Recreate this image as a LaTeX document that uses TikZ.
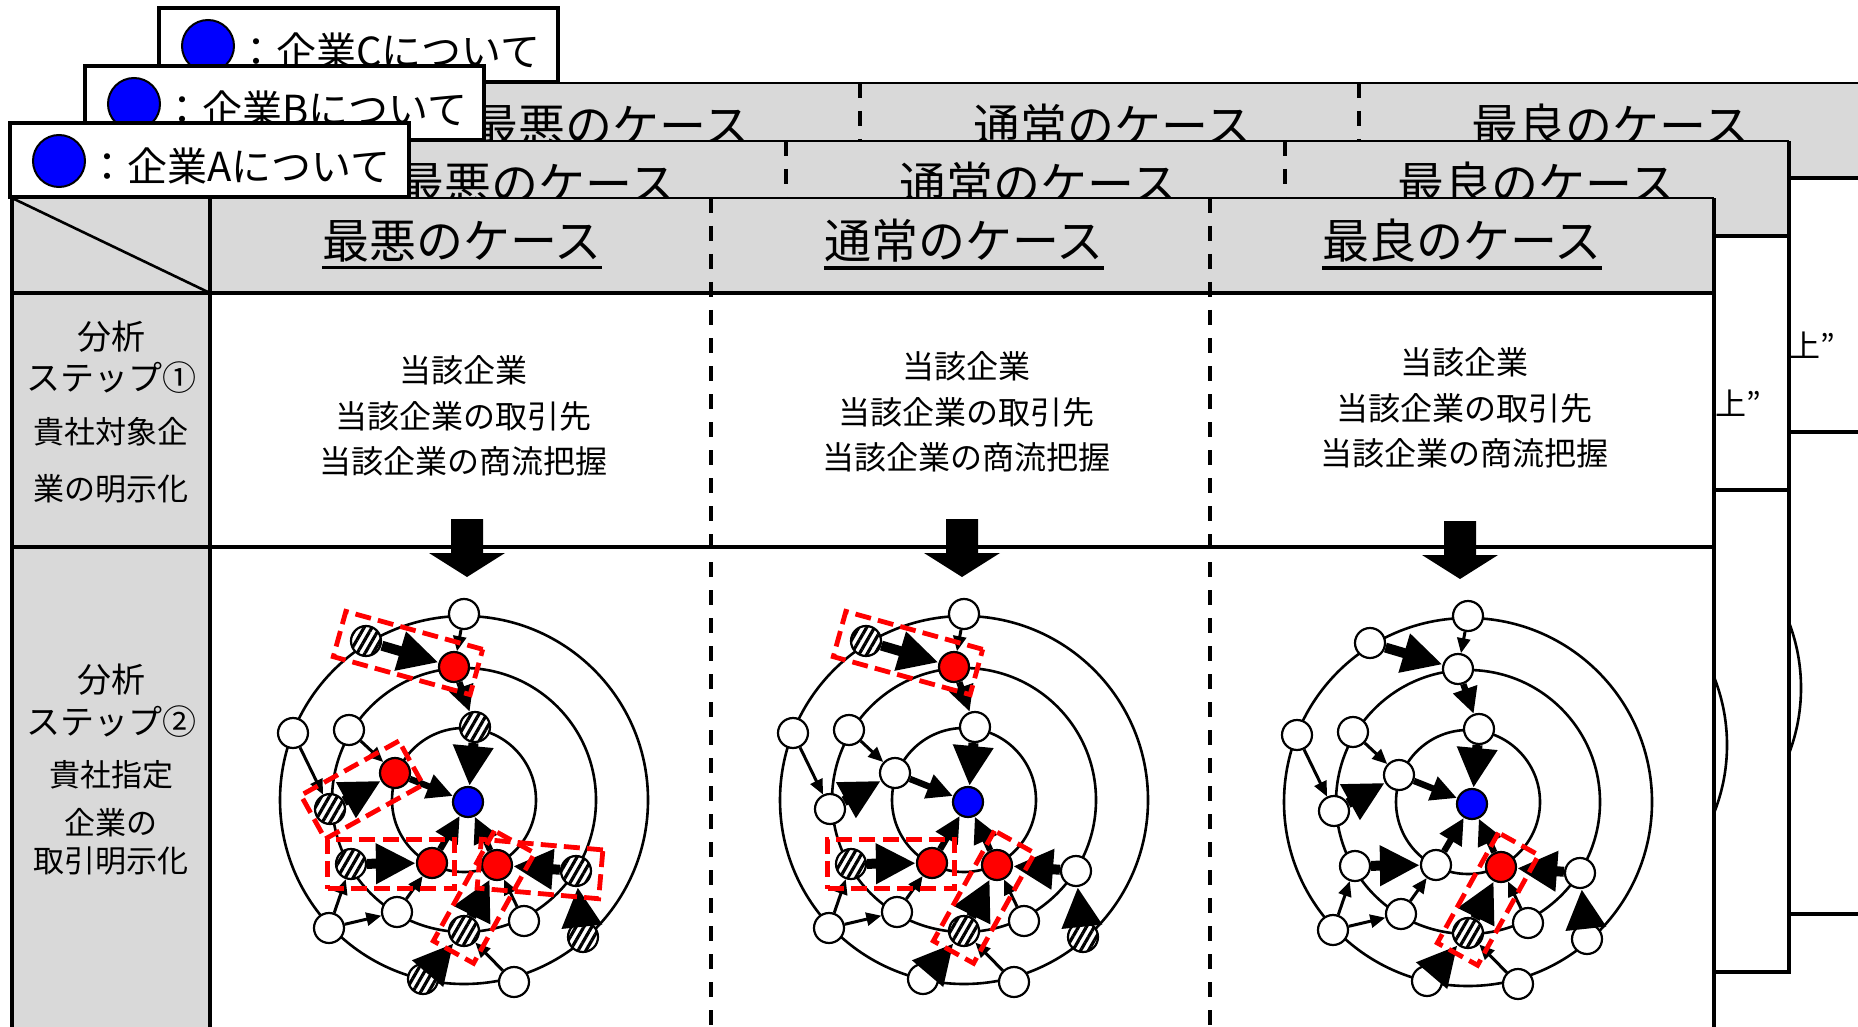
\documentclass[tikz,border=0pt]{standalone}
\usepackage{fontspec}
\newfontfamily\jp{Noto Sans CJK JP}
\usetikzlibrary{arrows.meta,patterns.meta}
\definecolor{hdr}{HTML}{D9D9D9}
\definecolor{pblue}{HTML}{0000FF}
\definecolor{pred}{HTML}{FF0000}

\tikzset{
  tl/.style={line width=2.3pt},
  tlt/.style={line width=1.3pt},
  dl/.style={line width=1.7pt, dash pattern=on 7.5pt off 6.5pt},
  ring/.style={line width=1.3pt},
  nd/.style={circle, draw, line width=1.1pt, minimum size=15pt, inner sep=0pt},
  ndw/.style={nd, fill=white},
  ndr/.style={nd, fill=pred},
  ndb/.style={nd, fill=pblue},
  ndh/.style={nd, preaction={fill=white}, pattern={Lines[angle=60,distance=3.4pt,line width=1.6pt]}},
  athin/.style={line width=1.5pt, -{Triangle[length=7.5pt,width=6.5pt]}},
  amed/.style={line width=3.2pt, -{Triangle[length=13pt,width=12pt]}},
  athick/.style={line width=5pt, -{Triangle[length=20pt,width=19pt]}},
  rbox/.style={rectangle, draw=pred, line width=2.4pt, dash pattern=on 8pt off 3.6pt, inner sep=0pt},
  hdtxt/.style={font=\jp\fontsize{23.5pt}{28pt}\selectfont, inner sep=0pt},
  lgtxt/.style={font=\jp\fontsize{20pt}{24pt}\selectfont, inner sep=0pt, anchor=west},
  lgdot/.style={circle, draw, fill=pblue, line width=1pt, minimum size=26pt, inner sep=0pt},
  rowtxt/.style={font=\jp\fontsize{16pt}{22.75pt}\selectfont, align=center, inner sep=0pt},
  stepbig/.style={font=\jp\fontsize{17pt}{20pt}\selectfont, inner sep=0pt},
  stepsm/.style={font=\jp\fontsize{15.5pt}{19pt}\selectfont, inner sep=0pt},
  tailtxt/.style={font=\jp\fontsize{15.5pt}{19pt}\selectfont, inner sep=0pt, anchor=west},
}

\newcommand\tablelayer[3]{%
\begin{scope}[shift={(#1,#2)}]
 \fill[white] (12,198) rectangle (1714,1029);
 \fill[hdr] (12,198) rectangle (1714,293);
 \fill[hdr] (12,293) rectangle (210,1029);
 \draw[line width=1.3pt] (12,198) -- (210,293);
 \draw[dl] (711,198) -- (711,1029);
 \draw[dl] (1210,198) -- (1210,1029);
 \draw[tl] (12,293) -- (1714,293);
 \draw[tl] (12,547) -- (1714,547);
 \draw[tl] (210,198) -- (210,1029);
 \draw[tlt] (12,198) -- (1714,198);
 \draw[tl] (12,198) -- (12,1029) -- (1714,1029) -- (1714,198);
 \node[hdtxt] (#3h1) at (462,241) {最悪のケース};
 \node[hdtxt] (#3h2) at (964,241) {通常のケース};
 \node[hdtxt] (#3h3) at (1462,241) {最良のケース};
 \foreach \h in {1,2,3}{\draw[line width=1.6pt] ([yshift=-2.5pt]#3h\h.south west) -- ([yshift=-2.5pt]#3h\h.south east);}
\end{scope}}

\newcommand\legendbox[3]{%
\begin{scope}[shift={(#1,#2)}]
 \draw[line width=1.6pt, fill=white] (10,123) rectangle (409,197);
 \node[lgdot] (#3dot) at (59,161) {};
 \node[lgtxt] (#3lg) at (87,166) {：企業#3について};
\end{scope}}

\newcommand\downarr[3]{%
 \fill (#1-16,#2) -- (#1+16,#2) -- (#1+16,#2+34) -- (#1+38,#2+34) -- (#1,#2+58) -- (#1-38,#2+34) -- (#1-16,#2+34) -- cycle;}

\newcommand\netpanel[3]{%
 \begin{scope}[shift={#2}]
  \draw[ring] (464,800) circle[radius=184];
  \draw[ring] (464,800) circle[radius=132];
  \draw[ring] (464,800) circle[radius=72];
  \foreach \k/\px/\py in {1/464/614, 2/366/641, 3/454/667, 4/475/727, 5/293/733,
     6/349/730, 7/395/773, 8/330/809, 9/468/802, 10/351/864, 11/432/863,
     12/497/865, 13/576/871, 14/329/928, 15/397/912, 16/464/931, 17/524/921,
     18/583/937, 19/423/979, 20/514/982}{\coordinate (#1c\k) at (\px,\py);}
 \end{scope}
 \foreach \ty [count=\k] in {#3}{\edef\tmp{\noexpand\node[nd\ty] (#1n\k) at (#1c\k) {};}\tmp}
 \draw[athin] (#1n1) -- (#1n3);
 \draw[athick] (#1n2) -- (#1n3);
 \draw[amed] (#1n3) -- (#1n4);
 \draw[athick] (#1n4) -- (#1n9);
 \draw[athin] (#1n5) -- (#1n8);
 \draw[athin] (#1n6) -- (#1n7);
 \draw[athick] (#1n8) -- (#1n7);
 \draw[amed] (#1n7) -- (#1n9);
 \draw[athick] (#1n10) -- (#1n11);
 \draw[amed] (#1n11) -- (#1n9);
 \draw[amed] (#1n12) -- (#1n9);
 \draw[athick] (#1n13) -- (#1n12);
 \draw[athin] (#1n14) -- (#1n10);
 \draw[athin] (#1n14) -- (#1n15);
 \draw[athin] (#1n15) -- (#1n11);
 \draw[athick] (#1n16) -- (#1n12);
 \draw[athin] (#1n17) -- (#1n12);
 \draw[athick] (#1n19) -- (#1n16);
 \draw[athin] (#1n20) -- (#1n16);
 \draw[athick] (#1n18) -- (#1n13);
}

\begin{document}
\begin{tikzpicture}[x=0.5pt,y=-0.5pt]
\useasboundingbox (0,0) rectangle (1858,1027);
\clip (0,0) rectangle (1858,1027);

% ---- layer C (back)
\tablelayer{149}{-115}{C}
\node[tailtxt] (Ctail) at (1789,345) {上”};
\draw[ring] (1617,688) circle[radius=184];
\legendbox{149}{-115}{C}

% ---- layer B
\tablelayer{75}{-57}{B}
\node[tailtxt] (Btail) at (1715,403) {上”};
\draw[ring] (1543,745) circle[radius=184];
\legendbox{75}{-57}{B}

% ---- layer A (front)
\tablelayer{0}{0}{A}

\node[stepbig] (s1a) at (111,337) {分析};
\node[stepbig] (s1b) at (111,378) {ステップ①};
\node[stepsm] (s1c) at (111,432) {貴社対象企};
\node[stepsm] (s1d) at (111,489) {業の明示化};

\node[stepbig] (s2a) at (111,680) {分析};
\node[stepbig] (s2b) at (111,722) {ステップ②};
\node[stepsm] (s2c) at (111,775) {貴社指定};
\node[stepsm] (s2d) at (111,823) {企業の};
\node[stepsm] (s2e) at (111,861) {取引明示化};

\node[rowtxt] (t1) at (463,416) {当該企業\\当該企業の取引先\\当該企業の商流把握};
\node[rowtxt] (t2) at (966,412) {当該企業\\当該企業の取引先\\当該企業の商流把握};
\node[rowtxt] (t3) at (1464,408) {当該企業\\当該企業の取引先\\当該企業の商流把握};

\downarr{467}{519}{}
\downarr{962}{519}{}
\downarr{1460}{521}{}

\netpanel{P}{(0,0)}{w,h,r,h,w,w,r,h,b,h,r,r,h,w,w,h,w,h,h,w}
\netpanel{Q}{(500,0)}{w,h,r,w,w,w,w,w,b,h,r,r,w,w,w,h,w,h,w,w}
\netpanel{R}{(1004,2)}{w,w,w,w,w,w,w,w,b,w,w,r,w,w,w,h,w,w,w,w}

% red dashed groups
\begin{scope}
 \node[rbox, minimum width=71pt, minimum height=23.5pt, rotate=-15.5] (PR1) at (408,653) {};
 \node[rbox, minimum width=56pt, minimum height=25pt, rotate=29] (PR2) at (362,790) {};
 \node[rbox, minimum width=63.5pt, minimum height=24.5pt] (PR3) at (391,864) {};
 \node[rbox, minimum width=61pt, minimum height=24.5pt, rotate=-5] (PR4) at (540,869) {};
 \node[rbox, minimum width=63pt, minimum height=23pt, rotate=61] (PR5) at (484,897) {};
\end{scope}
\begin{scope}[shift={(500,0)}]
 \node[rbox, minimum width=71pt, minimum height=23.5pt, rotate=-15.5] (QR1) at (408,653) {};
 \node[rbox, minimum width=63.5pt, minimum height=24.5pt] (QR3) at (391,864) {};
 \node[rbox, minimum width=63pt, minimum height=23pt, rotate=61] (QR5) at (484,897) {};
\end{scope}
\begin{scope}[shift={(1004,2)}]
 \node[rbox, minimum width=63pt, minimum height=23pt, rotate=61] (RR5) at (484,897) {};
\end{scope}

\legendbox{0}{0}{A}
\end{tikzpicture}
\end{document}
